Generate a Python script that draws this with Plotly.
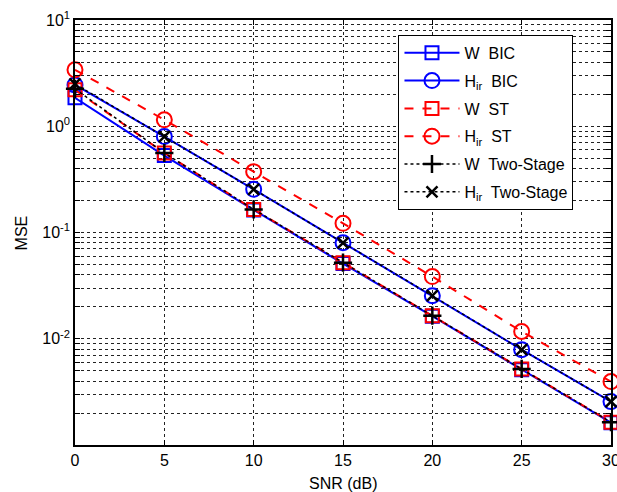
import plotly.graph_objects as go

snr = [0, 5, 10, 15, 20, 25, 30]
w_bic = [1.85, 0.53, 0.163, 0.051, 0.0163, 0.0051, 0.00162]
h_bic = [2.45, 0.80, 0.255, 0.080, 0.0254, 0.0079, 0.00256]
w_st = [2.2, 0.56, 0.165, 0.052, 0.0165, 0.0052, 0.00164]
h_st = [3.4, 1.15, 0.374, 0.122, 0.0385, 0.0117, 0.00395]
w_ts = [2.25, 0.56, 0.165, 0.052, 0.0165, 0.0052, 0.00164]
h_ts = [2.5, 0.80, 0.255, 0.080, 0.0254, 0.0079, 0.00256]

names = ["W  BIC", "H<sub>ir</sub>  BIC", "W  ST", "H<sub>ir</sub>  ST",
         "W  Two-Stage", "H<sub>ir</sub>  Two-Stage"]

BLUE = "rgb(0,0,255)"
RED = "rgb(255,0,0)"
BLACK = "black"

series = [
    (w_bic, names[0], BLUE, "solid", "square-open", 13, 2),
    (h_bic, names[1], BLUE, "solid", "circle-open", 15, 2),
    (w_st, names[2], RED, "dash", "square-open", 13, 2),
    (h_st, names[3], RED, "dash", "circle-open", 15, 2),
    (w_ts, names[4], BLACK, "dot", "cross-thin", 13, 1.5),
    (h_ts, names[5], BLACK, "dot", "x-thin", 11, 1.5),
]

fig = go.Figure()
for i, (vals, name, col, dash, sym, msize, lw) in enumerate(series):
    fig.add_trace(go.Scatter(
        x=snr, y=vals, name=name, mode="lines+markers",
        legendgroup="g%d" % i, cliponaxis=False,
        line=dict(color=col, dash=dash, width=lw),
        marker=dict(symbol=sym, size=msize, color=col,
                    line=dict(color=col, width=2.5 if "thin" in sym else 2)),
    ))

tickvals = []
ticktext = []
for e in range(-3, 2):
    for m in range(1, 10):
        if e == 1 and m > 1:
            break
        tickvals.append(m * 10 ** e)
        if m == 1 and e > -3:
            ticktext.append("10<sup>%d</sup>" % e)
        else:
            ticktext.append(" ")

font = "Liberation Sans, Arial, sans-serif"
fig.update_layout(
    width=617, height=492,
    margin=dict(l=75, r=6, t=20, b=47),
    paper_bgcolor="white", plot_bgcolor="white",
    font=dict(family=font, size=16, color="black"),
    showlegend=True,
    legend=dict(
        x=0.93, y=0.965, xanchor="right", yanchor="top",
        bgcolor="white", bordercolor="black", borderwidth=1,
        font=dict(family=font, size=16), itemwidth=55,
        tracegroupgap=4,
    ),
    xaxis=dict(
        range=[-0.0001, 30.0001], tickvals=snr, ticktext=[str(v) for v in snr],
        ticks="inside", ticklen=5, tickcolor="black",
        ticklabeloverflow="allow",
        showline=True, linecolor="black", linewidth=1.5, mirror="ticks",
        showgrid=True, gridcolor="#222", griddash="dot", gridwidth=1,
        zeroline=False, automargin=False,
    ),
    yaxis=dict(
        type="log", range=[-3, 1], tickvals=tickvals, ticktext=ticktext,
        ticks="inside", ticklen=5, tickcolor="black",
        ticklabeloverflow="allow",
        showline=True, linecolor="black", linewidth=1.5, mirror="ticks",
        showgrid=True, gridcolor="#222", griddash="dot", gridwidth=1,
        zeroline=False, automargin=False,
    ),
    annotations=[
        dict(text="SNR (dB)", xref="paper", yref="paper", x=0.5, y=-0.09,
             xanchor="center", yanchor="middle", showarrow=False,
             font=dict(size=16)),
        dict(text="MSE", xref="paper", yref="paper", x=-0.099, y=0.5,
             xanchor="center", yanchor="middle", showarrow=False,
             textangle=-90, font=dict(size=16)),
    ],
)

fig.write_html("out.html", config={"displayModeBar": False},
               post_script="document.body.style.margin='0';document.body.style.overflow='hidden';")
